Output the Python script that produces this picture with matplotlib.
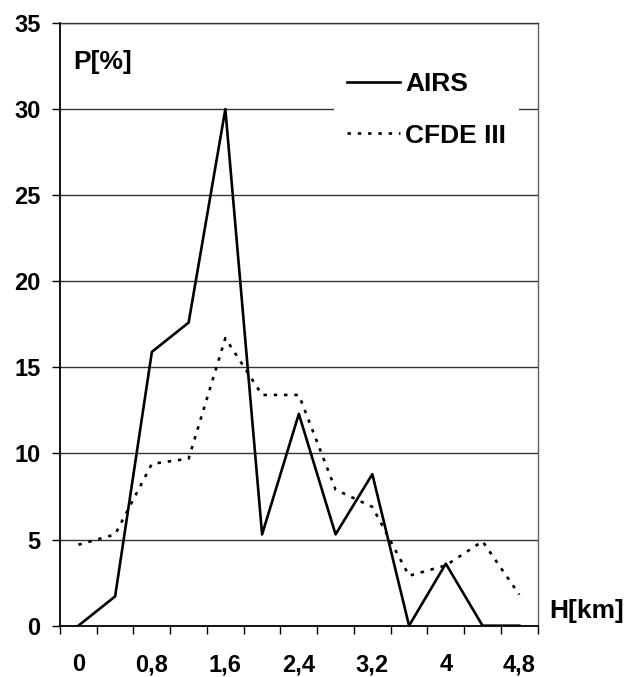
import matplotlib.pyplot as plt
import numpy as np

plt.rcParams['font.family'] = ['Liberation Sans', 'DejaVu Sans']
plt.rcParams['font.weight'] = 'bold'

# data: height categories (km) and probability (%)
heights = ["0", "0,4", "0,8", "1,2", "1,6", "2,0", "2,4", "2,8", "3,2", "3,6", "4", "4,4", "4,8"]
airs = [0.0, 1.7, 15.9, 17.6, 30.0, 5.3, 12.3, 5.3, 8.8, 0.0, 3.6, 0.0, 0.0]
cfde = [4.7, 5.3, 9.4, 9.7, 16.7, 13.4, 13.4, 7.9, 6.9, 2.9, 3.5, 4.9, 1.8]
tick_labels = ["0", "0,8", "1,6", "2,4", "3,2", "4", "4,8"]

x = np.arange(len(heights))

fig = plt.figure(figsize=(6.29, 6.77), dpi=100)
ax = fig.add_axes([0.0954, 0.0758, 0.7594, 0.8902])

ax.plot(x, airs, color='black', lw=1.9, label='AIRS', zorder=3)
ax.plot(x, cfde, color='black', lw=1.9, ls=(0, (1.3, 2.6)), label='CFDE III', zorder=3)

ax.set_xlim(-0.5, len(heights) - 0.5)
ax.set_ylim(0, 35)
ax.set_yticks(np.arange(0, 36, 5))
ax.yaxis.grid(True, color='#333333', lw=1.0)
ax.set_axisbelow(True)

# ticks on category boundaries, labels on every other category centre
ax.set_xticks(np.arange(-0.5, len(heights), 1.0))
ax.set_xticklabels([])
ax.set_xticks(x[::2], minor=True)
ax.set_xticklabels(tick_labels, minor=True)
ax.tick_params(axis='x', which='major', direction='out', length=6, width=1.0)
ax.tick_params(axis='x', which='minor', length=0, pad=20, labelsize=17)
ax.tick_params(axis='y', direction='out', length=6, width=1.0, pad=8, labelsize=17)

for s in ['left', 'bottom']:
    ax.spines[s].set_linewidth(1.3)
    ax.spines[s].set_color('black')
ax.spines['right'].set_color('#606060')
ax.spines['right'].set_linewidth(1.0)
ax.spines['top'].set_color('#333333')
ax.spines['top'].set_linewidth(1.0)

ax.text(0.028, 0.955, "P[%]", transform=ax.transAxes, fontsize=19, fontweight='bold',
        ha='left', va='top')
fig.text(0.873, 0.097, "H[km]", fontsize=19, fontweight='bold', ha='left', va='center')

leg = ax.legend(loc='center', bbox_to_anchor=(0.767, 0.856), fontsize=19, frameon=True,
                fancybox=False, edgecolor='none', facecolor='white', framealpha=1,
                handlelength=2.0, handletextpad=0.2, labelspacing=1.05, borderpad=0.5)
for t in leg.get_texts():
    t.set_fontweight('bold')

plt.savefig("out.png", dpi=100)
